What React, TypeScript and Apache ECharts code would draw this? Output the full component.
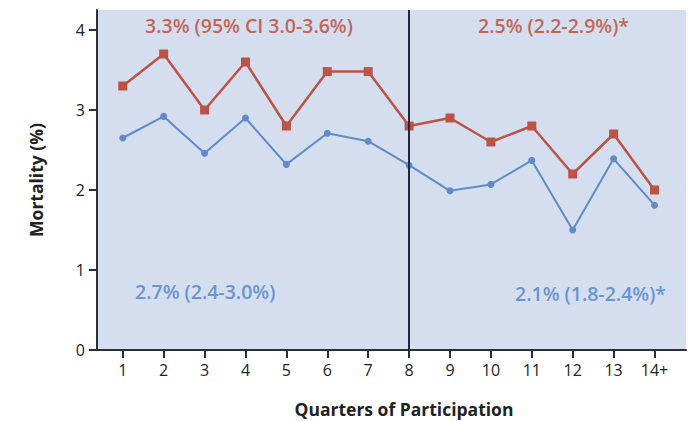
import React, { useEffect, useRef } from "react";
import * as echarts from "echarts";

const quarters = [1, 2, 3, 4, 5, 6, 7, 8, 9, 10, 11, 12, 13, 14];
const quarterLabels = ["1", "2", "3", "4", "5", "6", "7", "8", "9", "10", "11", "12", "13", "14+"];
const redSeries = [3.3, 3.7, 3.0, 3.6, 2.8, 3.48, 3.48, 2.8, 2.9, 2.6, 2.8, 2.2, 2.7, 2.0];
const blueSeries = [2.65, 2.92, 2.46, 2.9, 2.32, 2.71, 2.61, 2.31, 1.99, 2.07, 2.37, 1.5, 2.39, 1.81];
const yTicks = [0, 1, 2, 3, 4];
const dividerQuarter = 8;
const redTextLeft = "3.3% (95% CI 3.0-3.6%)";
const redTextRight = "2.5% (2.2-2.9%)*";
const blueTextLeft = "2.7% (2.4-3.0%)";
const blueTextRight = "2.1% (1.8-2.4%)*";

const RED = "#bd5246";
const BLUE = "#5f8bc8";
const RED_TEXT = "#c46657";
const BLUE_TEXT = "#6a95d2";
const FONT = "'Open Sans', 'Noto Sans', sans-serif";

export default function App() {
  const ref = useRef<HTMLDivElement>(null);
  useEffect(() => {
    document.body.style.margin = "0";
    const chart = echarts.init(ref.current!, null, { renderer: "svg" });
    const toPairs = (vals: number[]) => quarters.map((q, i) => [q, vals[i]]);
    const annot = (text: string, x: number, y: number, fill: string) => ({
      type: "text",
      x,
      y,
      z: 10,
      style: { text, fill, font: `600 19.5px ${FONT}`, verticalAlign: "middle", align: "left" },
    });
    chart.setOption({
      animation: false,
      grid: {
        left: 97,
        right: 7,
        top: 10,
        bottom: 71,
        show: true,
        backgroundColor: "#d4deef",
        borderWidth: 0,
        outerBoundsMode: "none",
        containLabel: false,
      },
      xAxis: {
        type: "value",
        min: 0.37,
        max: 14.77,
        name: "Quarters of Participation",
        nameLocation: "middle",
        nameGap: 50,
        nameTextStyle: {
          fontFamily: FONT,
          fontWeight: "bold",
          fontSize: 17.5,
          lineHeight: 18,
          color: "#222",
          padding: [0, 0, 0, 25],
        },
        axisLine: { show: true, lineStyle: { color: "#2a2f3a", width: 2 } },
        axisTick: {
          show: true,
          customValues: quarters,
          length: 8,
          inside: false,
          lineStyle: { color: "#2a2f3a", width: 2 },
        },
        axisLabel: {
          customValues: quarters,
          formatter: (v: number) => quarterLabels[quarters.indexOf(Math.round(v))] ?? "",
          fontFamily: FONT,
          fontSize: 16,
          color: "#222",
          margin: 12,
        },
        splitLine: { show: false },
      },
      yAxis: {
        type: "value",
        min: 0,
        max: 4.25,
        name: "Mortality (%)",
        nameLocation: "middle",
        nameGap: 52,
        nameTextStyle: { fontFamily: FONT, fontWeight: "bold", fontSize: 17.5, color: "#222" },
        axisLine: { show: true, lineStyle: { color: "#2a2f3a", width: 2 } },
        axisTick: {
          show: true,
          customValues: yTicks,
          length: 8,
          lineStyle: { color: "#2a2f3a", width: 2 },
        },
        axisLabel: {
          customValues: yTicks,
          fontFamily: FONT,
          fontSize: 16,
          color: "#222",
          margin: 12,
        },
        splitLine: { show: false },
      },
      series: [
        {
          type: "line",
          data: toPairs(redSeries),
          symbol: "rect",
          symbolSize: 9,
          lineStyle: { color: RED, width: 2.5 },
          itemStyle: { color: RED },
          z: 3,
        },
        {
          type: "line",
          data: toPairs(blueSeries),
          symbol: "circle",
          symbolSize: 7,
          lineStyle: { color: BLUE, width: 2 },
          itemStyle: { color: BLUE },
          z: 3,
          markLine: {
            silent: true,
            symbol: "none",
            label: { show: false },
            lineStyle: { color: "#1e2740", width: 2, type: "solid" },
            data: [{ xAxis: dividerQuarter }],
          },
        },
      ],
      graphic: [
        annot(redTextLeft, 145, 25, RED_TEXT),
        annot(redTextRight, 478, 25, RED_TEXT),
        annot(blueTextLeft, 135, 291, BLUE_TEXT),
        annot(blueTextRight, 515, 293, BLUE_TEXT),
      ],
    });
    return () => chart.dispose();
  }, []);
  return <div ref={ref} style={{ width: 693, height: 421 }} />;
}
